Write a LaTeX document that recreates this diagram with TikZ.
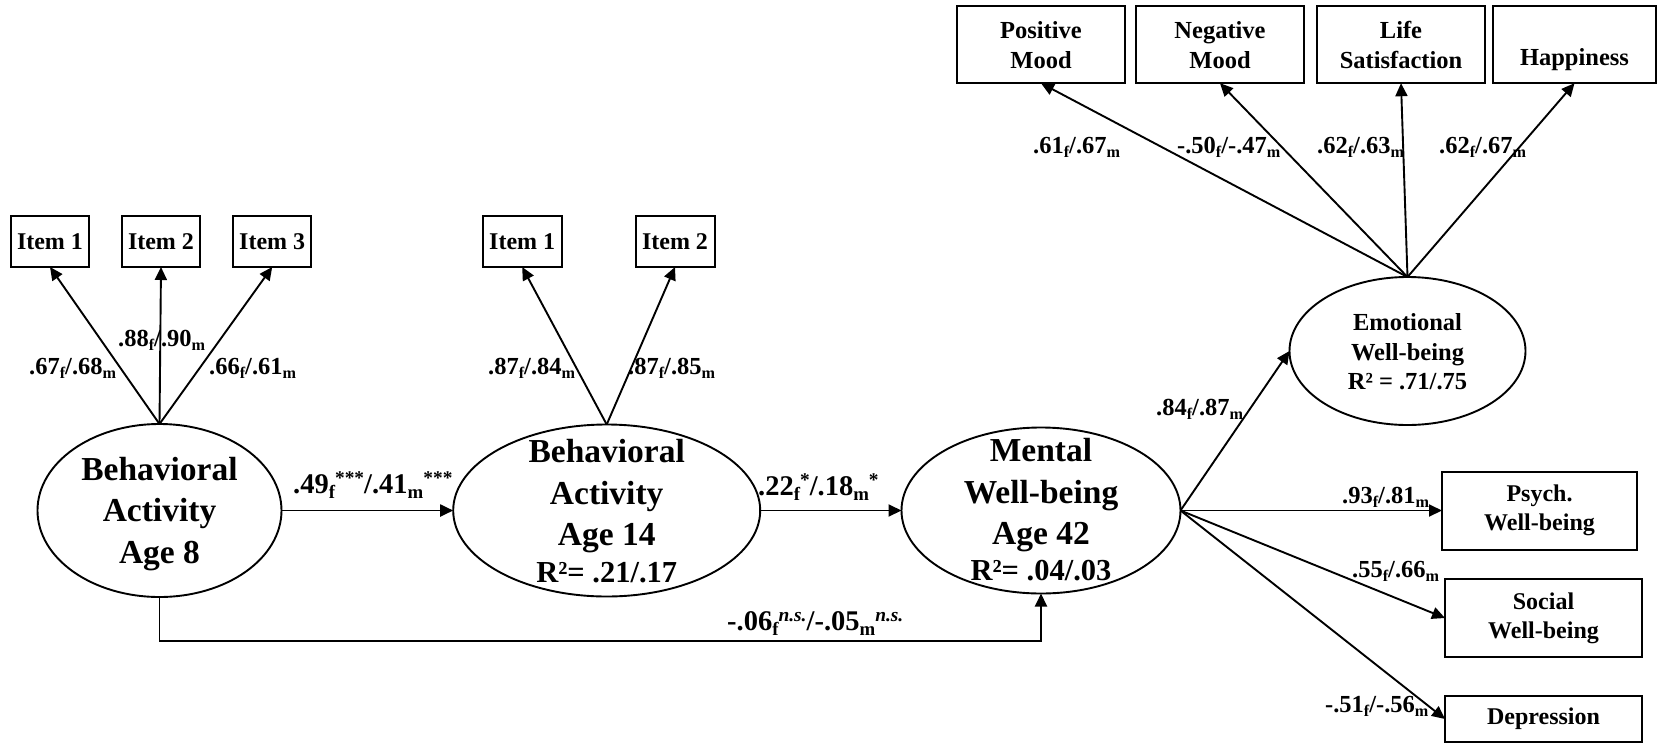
\documentclass[tikz,border=0pt]{standalone}
\usepackage{fontspec}
\setmainfont{Liberation Serif}
\usepackage{graphicx}
\usetikzlibrary{arrows.meta,shapes.geometric}
\newcommand\sbx[1]{\raisebox{-0.2em}{\scalebox{0.66}{#1}}}
\newcommand\spx[1]{\raisebox{0.3em}{\scalebox{0.68}{#1}}}
\newcommand\fm[2]{#1\sbx{f}/#2\sbx{m}}
\begin{document}
\begin{tikzpicture}[x=1pt,y=-1pt,
  latent/.style={draw, ellipse, line width=1.9pt, inner sep=0pt, outer sep=0pt},
  obs/.style={draw, rectangle, line width=2pt, inner sep=0pt, outer sep=0pt, align=center, font=\bfseries\fontsize{24}{29}\selectfont},
  topbox/.style={obs, minimum width=168pt, minimum height=77pt, font=\bfseries\fontsize{24.5}{30}\selectfont},
  big/.style={align=center, anchor=base, inner sep=0pt, font=\bfseries\fontsize{33.5}{41.5}\selectfont},
  mid/.style={align=center, anchor=base, inner sep=0pt, font=\bfseries\fontsize{24.5}{29.3}\selectfont},
  coef/.style={anchor=base west, inner sep=0pt, font=\bfseries\fontsize{24.5}{29}\selectfont},
  pcoef/.style={anchor=base west, inner sep=0pt, font=\bfseries\fontsize{28.5}{34}\selectfont},
  arr/.style={line width=1.9pt, -{Triangle[length=13pt,width=12pt]}},
]
\path[use as bounding box, fill=white] (0,0) rectangle (1658,745);

% latent variables
\node[latent, minimum width=244pt, minimum height=173pt] (ba8) at (159.5,510.5) {};
\node[latent, minimum width=307pt, minimum height=172pt] (ba14) at (606.7,510.5) {};
\node[latent, minimum width=279pt, minimum height=166pt] (mwb) at (1041,510.5) {};
\node[latent, minimum width=236pt, minimum height=148pt] (emo) at (1407.5,351) {};

% texts (base anchor = baseline of the last line)
\node[big] (t8) at (159.5,563) {Behavioral\\Activity\\Age 8};
\node[big] (t14) at (606.7,582) {Behavioral\\Activity\\Age 14\\[-5pt]{\fontsize{30.5}{37}\selectfont R²= .21/.17}};
\node[big] (t42) at (1041,580) {Mental\\Well-being\\Age 42\\[-6pt]{\fontsize{30.5}{37}\selectfont R²= .04/.03}};
\node[mid] (temo) at (1407.5,389.3) {Emotional\\Well-being\\R² = .71/.75};

% indicators
\node[obs, minimum width=78pt, minimum height=51pt] (a1) at (50,241.5) {Item 1};
\node[obs, minimum width=78pt, minimum height=51pt] (a2) at (161,241.5) {Item 2};
\node[obs, minimum width=78pt, minimum height=51pt] (a3) at (272.2,241.5) {Item 3};
\node[obs, minimum width=79pt, minimum height=51pt] (b1) at (522.2,241.5) {Item 1};
\node[obs, minimum width=79pt, minimum height=51pt] (b2) at (675,241.5) {Item 2};

\node[topbox] (pos) at (1041,44.7) {Positive\\Mood};
\node[topbox] (neg) at (1220,44.7) {Negative\\Mood};
\node[topbox] (life) at (1401,44.7) {Life\\Satisfaction};
\node[topbox, minimum width=163pt] (hap) at (1574.5,44.7) {\phantom{X}\\Happiness};

\node[obs, minimum width=195pt, minimum height=78pt] (psy) at (1539.5,510.5) {Psych.\\Well-being};
\node[obs, minimum width=197pt, minimum height=78pt] (soc) at (1543.5,618) {Social\\Well-being};
\node[obs, minimum width=197pt, minimum height=46pt] (dep) at (1543.5,719) {Depression};

% connectors
\draw[arr] (ba8.north) -- (a1.south);
\draw[arr] (ba8.north) -- (a2.south);
\draw[arr] (ba8.north) -- (a3.south);
\draw[arr] (ba14.north) -- (b1.south);
\draw[arr] (ba14.north) -- (b2.south);
\draw[arr] (ba8.east) -- (ba14.west);
\draw[arr] (ba14.east) -- (mwb.west);
\coordinate (low) at (0,640.7);
\draw[arr] (ba8.south) |- (mwb.south |- low) -- (mwb.south);
\draw[arr] (mwb.east) -- (emo.west);
\draw[arr] (mwb.east) -- (psy.west);
\draw[arr] (mwb.east) -- (soc.west);
\draw[arr] (mwb.east) -- (dep.west);
\draw[arr] (emo.north) -- (pos.south);
\draw[arr] (emo.north) -- (neg.south);
\draw[arr] (emo.north) -- (life.south);
\draw[arr] (emo.north) -- (hap.south);

% coefficients
\node[coef] (c1) at (29,374) {\fm{.67}{.68}};
\node[coef] (c2) at (118,346) {\fm{.88}{.90}};
\node[coef] (c3) at (209,374) {\fm{.66}{.61}};
\node[coef] (c4) at (488,374) {\fm{.87}{.84}};
\node[coef] (c5) at (628,374) {\fm{.87}{.85}};
\node[pcoef] (c6) at (293,493) {.49\sbx{f}\spx{***}/.41\sbx{m}\spx{***}};
\node[pcoef] (c7) at (758,495) {.22\sbx{f}\spx{*}/.18\sbx{m}\spx{*}};
\node[pcoef] (c8) at (727,630) {-.06\sbx{f}\spx{\textit{n.s.}}/-.05\sbx{m}\spx{\textit{n.s.}}};
\node[coef] (c9) at (1033,153) {\fm{.61}{.67}};
\node[coef] (c10) at (1177,153) {\fm{-.50}{-.47}};
\node[coef] (c11) at (1317,153) {\fm{.62}{.63}};
\node[coef] (c12) at (1439,153) {\fm{.62}{.67}};
\node[coef] (c13) at (1156,415) {\fm{.84}{.87}};
\node[coef] (c14) at (1342,503) {\fm{.93}{.81}};
\node[coef] (c15) at (1352,577) {\fm{.55}{.66}};
\node[coef] (c16) at (1325,712) {\fm{-.51}{-.56}};
\end{tikzpicture}
\end{document}
